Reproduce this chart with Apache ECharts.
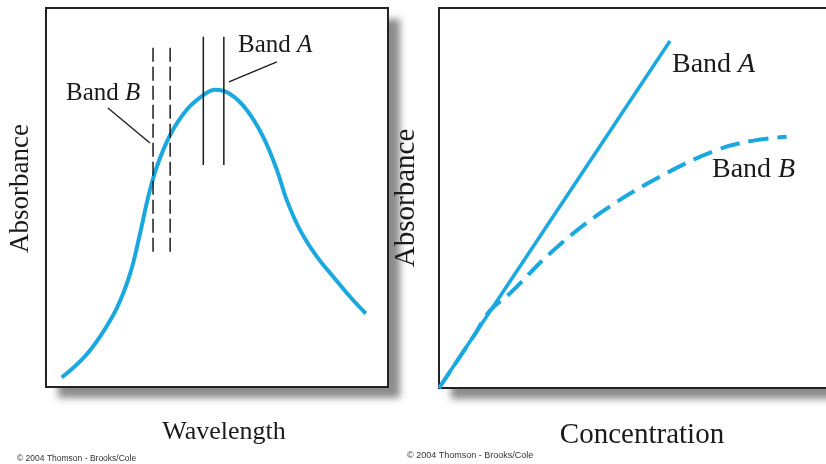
<!DOCTYPE html>
<html>
<head>
<meta charset="utf-8">
<script src="https://cdn.jsdelivr.net/npm/echarts@6/dist/echarts.min.js"></script>
<style>
  html, body { margin: 0; padding: 0; background: #fff; }
  #main { width: 826px; height: 464px; }
</style>
</head>
<body>
<div id="main"></div>
<script>
// left panel: absorption spectrum (x = wavelength, y = absorbance, 0-100)
var spectrum = [
  [4.6, 2.5], [10.9, 7.6], [15.8, 13.3], [20.7, 20.8], [24.6, 29.9],
  [27.5, 40.5], [29.9, 50.2], [32.4, 58.1], [36.3, 66.5], [41.1, 73.1],
  [46.0, 77.0], [49.4, 78.4], [53.8, 77.3], [58.7, 73.1], [63.5, 66.0],
  [67.5, 57.3], [70.4, 49.3], [74.3, 41.4], [79.2, 34.4], [84.0, 29.1],
  [88.9, 23.8], [93.5, 19.4]
];
// band edges drawn as vertical lines
var bandBEdges = [31.3, 36.3];
var bandBRange = [35.7, 90.8];
var bandAEdges = [46.0, 52.0];
var bandARange = [58.6, 92.4];
// leader lines from the labels
var leaderA = [[53.5, 80.5], [67.5, 85.8]];
var leaderB = [[18.1, 73.6], [30.4, 64.4]];

// right panel: calibration curves (x = concentration, y = absorbance)
var calibA = [[0, 0], [57.75, 91.3]];
var calibB = [
  [0, 0], [9, 14.2], [12.75, 20.4], [17.75, 24.9], [27.75, 35.4],
  [40.25, 46.0], [55.25, 55.6], [69.4, 62.6], [78.6, 65.1], [86.9, 66.1]
];

var blue = '#1aa8df';
var ink = '#1a1a1a';
var serif = '"Liberation Serif", "DejaVu Serif", serif';

function vline(x, range, dashed) {
  return {
    type: 'line', xAxisIndex: 0, yAxisIndex: 0, silent: true,
    showSymbol: false, symbol: 'none',
    data: [[x, range[0]], [x, range[1]]],
    lineStyle: { color: ink, width: 1.5, type: dashed ? [14, 5] : 'solid' }
  };
}

function bandLabel(x, y, letter, size) {
  return {
    type: 'text', left: x, top: y,
    style: {
      text: '{n|Band }{i|' + letter + '}',
      rich: {
        n: { fontFamily: serif, fontSize: size, fill: ink },
        i: { fontFamily: serif, fontSize: size, fontStyle: 'italic', fill: ink }
      }
    }
  };
}

// white card with a drop shadow behind each panel
function card(x, y, w, h) {
  return {
    type: 'rect', z: -10, shape: { x: x, y: y, width: w, height: h },
    style: {
      fill: '#fff', shadowColor: 'rgba(0,0,0,0.45)', shadowBlur: 7,
      shadowOffsetX: 12, shadowOffsetY: 11
    }
  };
}

var hiddenAxis = {
  type: 'value', min: 0, max: 100,
  axisLine: { show: false }, axisTick: { show: false },
  axisLabel: { show: false }, splitLine: { show: false },
  nameLocation: 'middle',
  nameTextStyle: { fontFamily: serif, color: ink }
};

function axis(extra) {
  var a = JSON.parse(JSON.stringify(hiddenAxis));
  for (var k in extra) {
    if (k === 'nameTextStyle') Object.assign(a.nameTextStyle, extra[k]);
    else a[k] = extra[k];
  }
  return a;
}

var chart = echarts.init(document.getElementById('main'));
var panel = { show: true, borderColor: '#222', borderWidth: 2, outerBoundsMode: 'none', containLabel: false };

chart.setOption({
  animation: false,
  grid: [
    Object.assign({ left: 46, top: 8, width: 342, height: 379 }, panel),
    Object.assign({ left: 439, top: 8, width: 400, height: 380 }, panel)
  ],
  xAxis: [
    axis({ gridIndex: 0, name: 'Wavelength', nameGap: 32, nameTextStyle: { fontSize: 26, padding: [0, 0, 0, 14] } }),
    axis({ gridIndex: 1, name: 'Concentration', nameGap: 33, nameTextStyle: { fontSize: 29, padding: [0, 0, 0, 6] } })
  ],
  yAxis: [
    axis({ gridIndex: 0, name: 'Absorbance', nameGap: 12, nameTextStyle: { fontSize: 27, padding: [0, 0, 0, 18] } }),
    axis({ gridIndex: 1, name: 'Absorbance', nameGap: 18, nameTextStyle: { fontSize: 29 } })
  ],
  series: [
    {
      type: 'line', xAxisIndex: 0, yAxisIndex: 0, smooth: 0.4, showSymbol: false,
      data: spectrum, lineStyle: { color: blue, width: 4 }
    },
    vline(bandBEdges[0], bandBRange, true),
    vline(bandBEdges[1], bandBRange, true),
    vline(bandAEdges[0], bandARange, false),
    vline(bandAEdges[1], bandARange, false),
    {
      type: 'line', xAxisIndex: 0, yAxisIndex: 0, showSymbol: false,
      data: leaderA, lineStyle: { color: ink, width: 1.3 }
    },
    {
      type: 'line', xAxisIndex: 0, yAxisIndex: 0, showSymbol: false,
      data: leaderB, lineStyle: { color: ink, width: 1.3 }
    },
    {
      type: 'line', xAxisIndex: 1, yAxisIndex: 1, smooth: 0.4, showSymbol: false,
      data: calibB, lineStyle: { color: blue, width: 4, type: [20, 9] }
    },
    {
      type: 'line', xAxisIndex: 1, yAxisIndex: 1, showSymbol: false,
      data: calibA, lineStyle: { color: blue, width: 3.5 }
    }
  ],
  graphic: [
    card(46, 8, 342, 379),
    card(439, 8, 400, 380),
    bandLabel(238, 33, 'A', 25),
    bandLabel(66, 81, 'B', 25),
    bandLabel(672, 51, 'A', 28),
    bandLabel(712, 156, 'B', 28),
    {
      type: 'text', left: 17, top: 454,
      style: { text: '\u00a9 2004 Thomson - Brooks/Cole', fontFamily: '"Liberation Sans", Arial, sans-serif', fontSize: 8.5, fill: '#333' }
    },
    {
      type: 'text', left: 407, top: 451,
      style: { text: '\u00a9 2004 Thomson - Brooks/Cole', fontFamily: '"Liberation Sans", Arial, sans-serif', fontSize: 9, fill: '#333' }
    }
  ]
});
</script>
</body>
</html>
